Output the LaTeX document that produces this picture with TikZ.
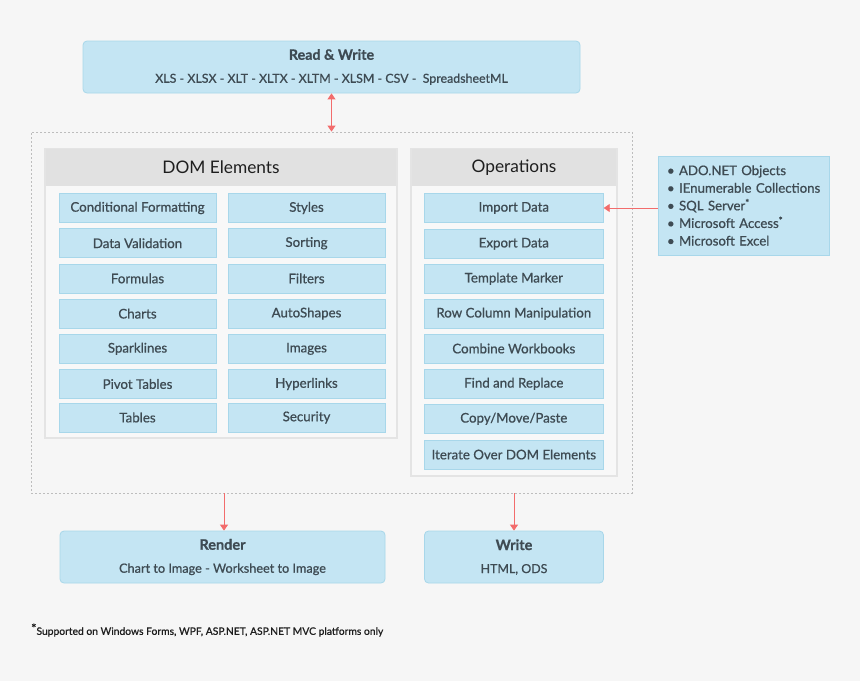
\documentclass[tikz,border=0pt]{standalone}
\usepackage{fontspec}
\setmainfont{Lato}
\newfontfamily\medfont{Lato}[FakeBold=0.8]
\usetikzlibrary{arrows.meta}
\definecolor{bg}{HTML}{F6F6F6}
\definecolor{blfill}{HTML}{C4E5F3}
\definecolor{blline}{HTML}{A8D7EA}
\definecolor{hdrgray}{HTML}{E1E1E1}
\definecolor{pnlline}{HTML}{E4E4E4}
\definecolor{pnlfill}{HTML}{F8F8F8}
\definecolor{txt}{HTML}{3E4B53}
\definecolor{hdrtxt}{HTML}{1E1E1E}
\definecolor{arrcol}{HTML}{F26C6C}
\definecolor{dotcol}{HTML}{BDBDBD}
\begin{document}
\begin{tikzpicture}[x=1pt,y=-1pt,
  itembox/.style={draw=blline, fill=blfill, line width=0.8pt, minimum height=29pt, inner sep=0pt, text=txt, font=\medfont\fontsize{13.3}{15}\selectfont},
  domitem/.style={itembox, minimum width=157pt},
  opsitem/.style={itembox, minimum width=179pt},
  bigbox/.style={draw=blline, fill=blfill, line width=0.8pt, rounded corners=4pt, inner sep=0pt, text=txt, align=center, font=\medfont\fontsize{12.4}{23}\selectfont},
  panel/.style={draw=pnlline, fill=pnlfill, line width=1.5pt, inner sep=0pt},
  hdr/.style={fill=hdrgray, inner sep=0pt, minimum height=37pt, text=hdrtxt, font=\fontsize{17.3}{20}\selectfont},
  arr/.style={draw=arrcol, line width=0.9pt, -{Triangle[width=8pt,length=6pt]}},
  darr/.style={draw=arrcol, line width=0.9pt, {Triangle[width=8pt,length=6pt]}-{Triangle[width=8pt,length=6pt]}}
]
\fill[bg] (0,0) rectangle (860,681);
\useasboundingbox (0,0) rectangle (860,681);

% Read & Write
\node[bigbox, minimum width=497pt, minimum height=52pt] (rw) at (331.5,67)
  {{\bfseries\fontsize{14.3}{23}\selectfont Read \& Write}\\XLS - XLSX - XLT - XLTX - XLTM - XLSM - CSV -\ \ SpreadsheetML};

% outer dotted region
\node[draw=dotcol, line width=0.8pt, dash pattern=on 2pt off 2pt, minimum width=601pt, minimum height=361pt, inner sep=0pt] (core) at (331.5,312.5) {};

% DOM panel
\node[panel, minimum width=352pt, minimum height=289pt] (dompanel) at (221,293.5) {};
\node[hdr, minimum width=350.5pt] (domhdr) at (221,167.5) {DOM Elements};

% Operations panel
\node[panel, minimum width=206pt, minimum height=327pt] (opspanel) at (514,312.5) {};
\node[hdr, minimum width=204.5pt] (opshdr) at (514,167.5) {Operations};

% DOM items
\node[domitem] (d1) at (137.5,208) {Conditional Formatting};
\node[domitem] (d2) at (137.5,243.2) {Data Validation};
\node[domitem] (d3) at (137.5,278.4) {Formulas};
\node[domitem] (d4) at (137.5,313.6) {Charts};
\node[domitem] (d5) at (137.5,348.8) {Sparklines};
\node[domitem] (d6) at (137.5,384) {Pivot Tables};
\node[domitem] (d7) at (137.5,417.5) {Tables};
\node[domitem] (e1) at (306.5,208) {Styles};
\node[domitem] (e2) at (306.5,243.2) {Sorting};
\node[domitem] (e3) at (306.5,278.4) {Filters};
\node[domitem] (e4) at (306.5,313.6) {AutoShapes};
\node[domitem] (e5) at (306.5,348.8) {Images};
\node[domitem] (e6) at (306.5,384) {Hyperlinks};
\node[domitem] (e7) at (306.5,417.5) {Security};

% Operations items
\node[opsitem] (imp) at (513.8,208) {Import Data};
\node[opsitem] (o2) at (513.8,243.8) {Export Data};
\node[opsitem] (o3) at (513.8,278.7) {Template Marker};
\node[opsitem] (o4) at (513.8,313.7) {Row Column Manipulation};
\node[opsitem] (o5) at (513.8,348.5) {Combine Workbooks};
\node[opsitem] (o6) at (513.8,383.8) {Find and Replace};
\node[opsitem] (o7) at (513.8,418.8) {Copy/Move/Paste};
\node[opsitem] (o8) at (513.8,454.5) {Iterate Over DOM Elements};

% data sources
\node[draw=blline, fill=blfill, line width=0.8pt, minimum width=171pt, minimum height=99pt, inner xsep=9pt, inner ysep=0pt, text width=153pt, align=left, text=txt, font=\medfont\fontsize{13.2}{17.6}\selectfont] (src) at (743.5,205.5)
  {\mbox{\textbullet\ ADO.NET Objects}\\
   \mbox{\textbullet\ IEnumerable Collections}\\
   \mbox{\textbullet\ SQL Server\textsuperscript{*}}\\
   \mbox{\textbullet\ Microsoft Access\textsuperscript{*}}\\
   \mbox{\textbullet\ Microsoft Excel}};

% Render & Write
\node[bigbox, minimum width=325pt, minimum height=52pt] (render) at (222.5,557)
  {{\bfseries\fontsize{14.5}{23}\selectfont Render}\\\fontsize{12.7}{23}\selectfont Chart to Image - Worksheet to Image};
\node[bigbox, minimum width=179pt, minimum height=52pt] (write) at (514,557)
  {{\bfseries\fontsize{14.5}{23}\selectfont Write}\\HTML, ODS};

% footnote
\node[anchor=west, inner sep=0pt, text=hdrtxt, font=\medfont\fontsize{10.3}{12}\selectfont] (note) at (31,630)
  {\raisebox{2pt}{\fontsize{12.5}{12}\selectfont*}Supported on Windows Forms, WPF, ASP.NET, ASP.NET MVC platforms only};

% connectors
\draw[darr] (rw.south) -- (rw.south |- core.north);
\draw[arr] (src.west |- imp) -- (imp.east);
\draw[arr] ([xshift=1.5pt]render.north |- core.south) -- ([xshift=1.5pt]render.north);
\draw[arr] (write.north |- core.south) -- (write.north);
\end{tikzpicture}
\end{document}
